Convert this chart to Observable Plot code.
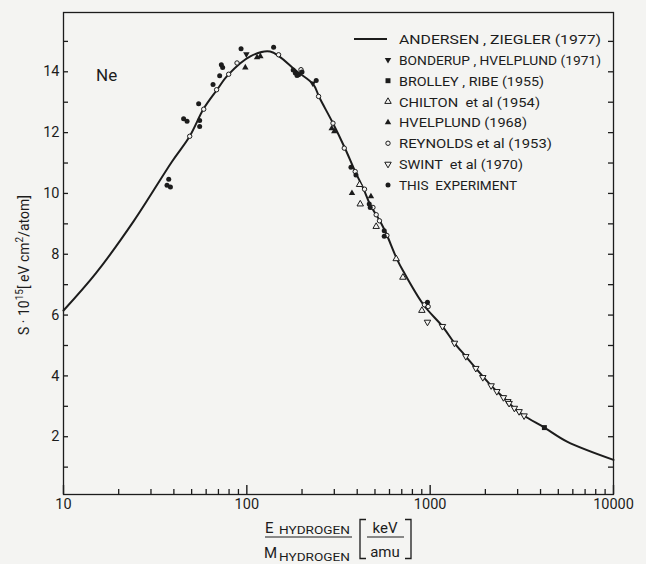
<!DOCTYPE html>
<html><head><meta charset="utf-8">
<script src="https://cdn.jsdelivr.net/npm/d3@7"></script>
<script src="https://cdn.jsdelivr.net/npm/@observablehq/plot@0.6"></script>
<style>
html,body{margin:0;padding:0;background:#f4f4f2;}
#chart{width:646px;height:564px;}
</style></head><body><div id="chart"></div>
<script>
// ---- Andersen, Ziegler (1977) curve ----
const curveE = [10, 15, 24.1, 39.1, 48.7, 58.2, 68.8, 79.0, 104.5, 134, 187.8, 231, 248, 295, 344, 390, 433, 471, 534, 575, 658, 715, 919, 1167, 1357, 1565, 1774, 2150, 2508, 2880, 3253, 4198, 5580, 10000];
const curveS = [6.15, 7.37, 9.08, 11.05, 11.87, 12.79, 13.41, 13.90, 14.51, 14.67, 14.01, 13.58, 13.17, 12.31, 11.47, 10.72, 10.15, 9.63, 9.08, 8.69, 7.85, 7.43, 6.34, 5.63, 5.08, 4.64, 4.25, 3.68, 3.29, 2.94, 2.69, 2.30, 1.84, 1.24];

// ---- measurements ----
const bonderupE = [99.4, 228.9];
const bonderupS = [14.58, 13.62];
const brolleyE = [4198];
const brolleyS = [2.30];
const chiltonE = [411.9, 415.5, 507.6, 652.7, 710, 901];
const chiltonS = [10.29, 9.65, 8.91, 7.85, 7.24, 6.15];
const hvelplundE = [98.1, 113.7, 118.5, 290.5, 300, 374.5, 475.2];
const hvelplundS = [14.14, 14.47, 14.51, 12.14, 12.04, 10.01, 9.90];
const reynoldsE = [48.8, 58.2, 68.4, 79.6, 88.4, 149, 197.4, 246.2, 295, 340, 390, 438.5, 487.3, 507.6, 529, 580.7, 931, 975];
const reynoldsS = [11.88, 12.77, 13.41, 13.92, 14.29, 14.56, 14.07, 13.19, 12.31, 11.49, 10.72, 10.14, 9.54, 9.30, 9.10, 8.62, 6.34, 6.28];
const swintE = [966.7, 1167, 1357, 1565, 1774, 1937, 2150, 2310, 2509, 2652, 2695, 2880, 3055, 3253];
const swintS = [5.77, 5.63, 5.08, 4.64, 4.25, 3.95, 3.68, 3.49, 3.29, 3.16, 3.10, 2.94, 2.83, 2.69];
const thisE = [36.7, 38.3, 37.5, 45.2, 47.2, 55.3, 55.3, 54.6, 65.4, 71.1, 72.6, 73.8, 93.0, 140, 183.8, 191.6, 200, 187.8, 179, 239, 369.7, 393.7, 465.2, 471, 561.6, 561.6, 966.7];
const thisS = [10.27, 10.21, 10.47, 12.46, 12.37, 12.40, 12.20, 12.95, 13.58, 13.87, 14.23, 14.14, 14.76, 14.81, 13.96, 13.90, 13.99, 13.88, 14.06, 13.71, 10.86, 10.61, 9.65, 9.54, 8.77, 8.59, 6.42];

// ---- axes ----
const xMajor = [10, 100, 1000, 10000];
const xMinor = [20,30,40,50,60,70,80,90,200,300,400,500,600,700,800,900,2000,3000,4000,5000,6000,7000,8000,9000];
const yTicks = [1,2,3,4,5,6,7,8,9,10,11,12,13,14,15];
const yLabels = [2,4,6,8,10,12,14];

const legendLabels = ["ANDERSEN , ZIEGLER (1977)", "BONDERUP , HVELPLUND (1971)", "BROLLEY , RIBE (1955)", "CHILTON  et al (1954)", "HVELPLUND (1968)", "REYNOLDS et al (1953)", "SWINT  et al (1970)", "THIS  EXPERIMENT"];

const INK = "#1c1c1c", BG = "#f4f4f2";
const FONT = "Roboto, 'Liberation Sans', sans-serif";
const W = 646, H = 564, ML = 63, MR = 33, MT = 12, MB = 70;
const innerW = W - ML - MR, innerH = H - MT - MB;
const zip = (E, S) => E.map((e, i) => ({E: e, S: S[i]}));

const triDown = {draw(ctx, size) {
  const s3 = Math.sqrt(3), y = -Math.sqrt(size / (s3 * 3));
  ctx.moveTo(0, -y * 2); ctx.lineTo(-s3 * y, y); ctx.lineTo(s3 * y, y); ctx.closePath();
}};

const series = [
  {E: bonderupE, S: bonderupS, symbol: triDown, fill: INK, r: 2.4},
  {E: brolleyE, S: brolleyS, symbol: "square", fill: INK, r: 2.8},
  {E: chiltonE, S: chiltonS, symbol: "triangle", fill: BG, stroke: INK, r: 2.4},
  {E: hvelplundE, S: hvelplundS, symbol: "triangle", fill: INK, r: 2.4},
  {E: reynoldsE, S: reynoldsS, symbol: "circle", fill: BG, stroke: INK, r: 2.2},
  {E: swintE, S: swintS, symbol: triDown, fill: BG, stroke: INK, r: 2.4},
  {E: thisE, S: thisS, symbol: "circle", fill: INK, r: 2.5}
];

const plot = Plot.plot({
  width: W, height: H,
  marginLeft: ML, marginRight: MR, marginTop: MT, marginBottom: MB,
  style: {background: "transparent", fontFamily: FONT, fontSize: "14.5px", color: INK},
  x: {type: "log", domain: [10, 10000]},
  y: {domain: [0.1, 15.95]},
  marks: [
    // labels
    Plot.axisX({ticks: xMajor, tickSize: 0, tickPadding: 4, tickFormat: d => String(d), fontSize: 14.5, label: null}),
    Plot.axisY({anchor: "left", ticks: yLabels, tickSize: 0, tickPadding: 4, tickFormat: d => String(d), fontSize: 14.5, label: null}),
    // inward ticks
    Plot.tickX(xMajor, {x: d => d, insetTop: innerH - 9, stroke: INK, strokeWidth: 1.4}),
    Plot.tickX(xMinor, {x: d => d, insetTop: innerH - 5, stroke: INK, strokeWidth: 1.3}),
    Plot.tickY(yTicks, {y: d => d, insetRight: innerW - 5, stroke: INK, strokeWidth: 1.3}),
    Plot.tickY(yTicks, {y: d => d, insetLeft: innerW - 5, stroke: INK, strokeWidth: 1.3}),
    Plot.frame({stroke: INK, strokeWidth: 1.3}),
    Plot.line(zip(curveE, curveS), {x: "E", y: "S", stroke: INK, strokeWidth: 2, curve: "catmull-rom"}),
    ...series.map(s => Plot.dot(zip(s.E, s.S), {x: "E", y: "S", symbol: s.symbol, r: s.r, fill: s.fill, stroke: s.stroke || "none", strokeWidth: 1}))
  ]
});
document.getElementById("chart").appendChild(plot);

// ---- annotations: legend, titles ----
const svg = d3.select(plot);
const g = svg.append("g").attr("fill", INK).attr("font-family", FONT).attr("text-anchor", "start");

// "Ne"
g.append("text").attr("x", 96).attr("y", 81).attr("font-size", 17).text("Ne");

// legend
const legX = 388, legTextX = 399, legY0 = 39, legDy = 20.85;
const legWidths = [202, 202, 145, 141, 128, 153, 124, 118];
g.append("line").attr("x1", 354).attr("x2", 387).attr("y1", legY0).attr("y2", legY0).attr("stroke", INK).attr("stroke-width", 2);
legendLabels.forEach((lab, i) => {
  const y = legY0 + i * legDy;
  g.append("text").attr("x", legTextX).attr("y", y + 5).attr("font-size", 13.5)
    .attr("textLength", legWidths[i]).attr("lengthAdjust", "spacingAndGlyphs").text(lab);
  if (i > 0) {
    const s = series[i - 1];
    const type = typeof s.symbol === "string" ? ({circle: d3.symbolCircle, square: d3.symbolSquare, triangle: d3.symbolTriangle})[s.symbol] : s.symbol;
    g.append("path").attr("transform", `translate(${legX},${y})`)
      .attr("d", d3.symbol(type, Math.PI * s.r * s.r)())
      .attr("fill", s.fill).attr("stroke", s.stroke || "none").attr("stroke-width", 1);
  }
});

// y-axis title
const yt = g.append("text").attr("transform", "translate(29,265) rotate(-90)").attr("text-anchor", "middle").attr("font-size", 14);
yt.append("tspan").text("S · 10");
yt.append("tspan").attr("font-size", 10).attr("dy", -6).text("15");
yt.append("tspan").attr("dy", 6).text("[ eV cm");
yt.append("tspan").attr("font-size", 10).attr("dy", -6).text("2");
yt.append("tspan").attr("dy", 6).text("/atom]");

// x-axis title (fraction)
g.append("text").attr("x", 265).attr("y", 533).attr("font-size", 15).text("E");
g.append("text").attr("x", 279).attr("y", 534).attr("font-size", 10.5).attr("textLength", 71).attr("lengthAdjust", "spacingAndGlyphs").text("HYDROGEN");
g.append("line").attr("x1", 265).attr("x2", 352).attr("y1", 537).attr("y2", 537).attr("stroke", INK).attr("stroke-width", 1.2);
g.append("text").attr("x", 264).attr("y", 558).attr("font-size", 15).text("M");
g.append("text").attr("x", 279).attr("y", 561).attr("font-size", 10.5).attr("textLength", 71).attr("lengthAdjust", "spacingAndGlyphs").text("HYDROGEN");
g.append("path").attr("d", "M366,519.5H360V558.5H366").attr("fill", "none").attr("stroke", INK).attr("stroke-width", 1.3);
g.append("path").attr("d", "M405,519.5H411V558.5H405").attr("fill", "none").attr("stroke", INK).attr("stroke-width", 1.3);
g.append("text").attr("x", 385).attr("y", 533).attr("text-anchor", "middle").attr("font-size", 15).text("keV");
g.append("line").attr("x1", 367).attr("x2", 404).attr("y1", 537).attr("y2", 537).attr("stroke", INK).attr("stroke-width", 1.2);
g.append("text").attr("x", 385).attr("y", 557).attr("text-anchor", "middle").attr("font-size", 15).text("amu");
</script></body></html>
